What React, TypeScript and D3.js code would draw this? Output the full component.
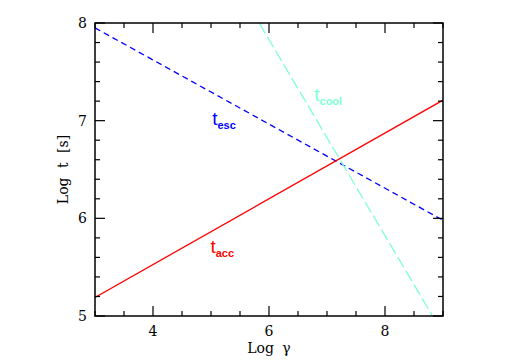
import React from 'react';
import * as d3 from 'd3';

// log gamma vs log t for each timescale (endpoints)
const escGamma = [3, 9];
const escLogT = [7.95, 5.98];
const accGamma = [3, 9];
const accLogT = [5.19, 7.21];
const coolGamma = [5.83, 8.82];
const coolLogT = [8, 5];

const xMajor = [4, 6, 8];
const yMajor = [5, 6, 7, 8];

const W = 515;
const H = 364;
const margin = { left: 95, right: 72, top: 23, bottom: 48 };

export default function App() {
  const x = d3.scaleLinear().domain([3, 9]).range([margin.left, W - margin.right]);
  const y = d3.scaleLinear().domain([5, 8]).range([H - margin.bottom, margin.top]);

  const line = d3
    .line<[number, number]>()
    .x((d) => x(d[0]))
    .y((d) => y(d[1]));

  const pts = (g: number[], t: number[]) => g.map((v, i) => [v, t[i]] as [number, number]);

  const x0 = x(3), x1 = x(9), y0 = y(5), y1 = y(8);
  const xMinor = d3.range(3, 9.001, 0.5);
  const yMinor = d3.range(5, 8.001, 0.2);

  const serif = '"DejaVu Serif", serif';
  const sans = '"Liberation Sans", Arial, sans-serif';

  return (
    <svg width={W} height={H} style={{ position: 'absolute', left: 0, top: 0, background: '#fff' }}>
      <defs>
        <clipPath id="plot">
          <rect x={x0} y={y1} width={x1 - x0} height={y0 - y1} />
        </clipPath>
      </defs>
      <g clipPath="url(#plot)" fill="none" strokeWidth={1.3}>
        <path d={line(pts(escGamma, escLogT)) || ''} stroke="#0000ff" strokeDasharray="6,4" />
        <path d={line(pts(accGamma, accLogT)) || ''} stroke="#ff0000" />
        <path d={line(pts(coolGamma, coolLogT)) || ''} stroke="#7fffd4" strokeDasharray="12,4" />
      </g>

      {/* ticks on all four sides, pointing inward */}
      <g stroke="#000" strokeWidth={1.2}>
        {xMinor.map((v) => {
          const len = xMajor.includes(v) ? 10 : 5;
          return (
            <g key={'xt' + v}>
              <line x1={x(v)} x2={x(v)} y1={y0} y2={y0 - len} />
              <line x1={x(v)} x2={x(v)} y1={y1} y2={y1 + len} />
            </g>
          );
        })}
        {yMinor.map((v) => {
          const major = Math.abs(v - Math.round(v)) < 1e-6;
          const len = major ? 10 : 5;
          return (
            <g key={'yt' + v}>
              <line x1={x0} x2={x0 + len} y1={y(v)} y2={y(v)} />
              <line x1={x1} x2={x1 - len} y1={y(v)} y2={y(v)} />
            </g>
          );
        })}
        <rect x={x0} y={y1} width={x1 - x0} height={y0 - y1} fill="none" strokeWidth={1.5} />
      </g>

      <g fontFamily={serif} fontSize={14} fill="#000">
        {xMajor.map((v) => (
          <text key={'xl' + v} x={x(v)} y={y0 + 20} textAnchor="middle">
            {v}
          </text>
        ))}
        {yMajor.map((v) => (
          <text key={'yl' + v} x={x0 - 8} y={y(v) + 5} textAnchor="end">
            {v}
          </text>
        ))}
        <text x={(x0 + x1) / 2} y={y0 + 37} textAnchor="middle" wordSpacing={4}>
          Log γ
        </text>
        <text
          transform={`translate(68,${(y0 + y1) / 2}) rotate(-90)`}
          textAnchor="middle"
          wordSpacing={5}
        >
          Log t [s]
        </text>
      </g>

      <g fontFamily={sans}>
        <text x={x(5.02)} y={y(6.96)} fill="#0000ff" fontSize={19}>
          t<tspan fontSize={11} fontWeight="bold" dy={4}>esc</tspan>
        </text>
        <text x={x(6.78)} y={y(7.2)} fill="#7fffd4" fontSize={19}>
          t<tspan fontSize={11} fontWeight="bold" dy={4}>cool</tspan>
        </text>
        <text x={x(4.99)} y={y(5.64)} fill="#ff0000" fontSize={19}>
          t<tspan fontSize={11} fontWeight="bold" dy={4}>acc</tspan>
        </text>
      </g>
    </svg>
  );
}
